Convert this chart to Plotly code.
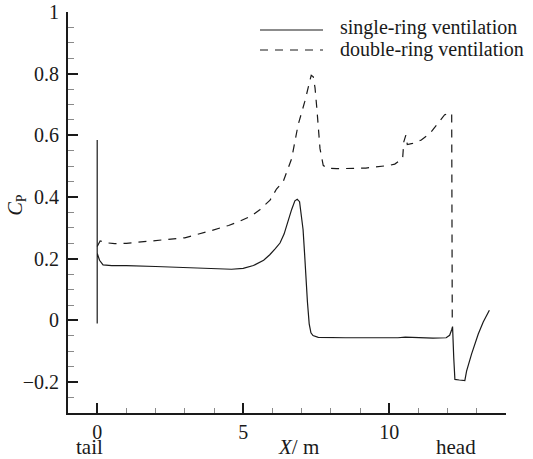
import plotly.graph_objects as go

# ---- data ----
single_x = [0, 0, 0, 0.08, 0.2, 0.5, 1.0, 2.0, 3.0, 4.0, 4.6, 5.0, 5.35, 5.7, 5.91,
            6.1, 6.26, 6.4, 6.54, 6.66, 6.77, 6.85, 6.93, 7.0, 7.05, 7.1, 7.15, 7.2,
            7.26, 7.32, 7.39, 7.57, 8.5, 9.5, 10.3, 10.55, 11.0, 11.5, 11.95, 12.07,
            12.14, 12.17, 12.21, 12.25, 12.4, 12.59, 12.65, 12.82, 13.05, 13.22, 13.43]
single_y = [0.585, -0.01, 0.218, 0.195, 0.18, 0.178, 0.178, 0.175, 0.171, 0.167, 0.166,
            0.169, 0.178, 0.195, 0.213, 0.233, 0.251, 0.28, 0.328, 0.36, 0.388, 0.393,
            0.385, 0.34, 0.295, 0.22, 0.131, 0.06, -0.011, -0.04, -0.049, -0.055,
            -0.056, -0.057, -0.056, -0.054, -0.056, -0.057, -0.056, -0.048, -0.03,
            -0.02, -0.12, -0.191, -0.193, -0.195, -0.164, -0.109, -0.044, -0.005, 0.033]

double_x = [0, 0.1, 0.3, 0.6, 1.0, 2.0, 3.0, 3.86, 4.5, 4.89, 5.3, 5.58, 5.92, 6.14,
            6.37, 6.66, 6.88, 7.11, 7.25, 7.33, 7.4, 7.46, 7.52, 7.57, 7.63, 7.74,
            7.85, 8.2, 9.2, 10.02, 10.19, 10.46, 10.5, 10.57, 10.62, 10.8, 11.1, 11.4,
            11.62, 11.9, 12.14, 12.16]
double_y = [0.24, 0.258, 0.252, 0.249, 0.25, 0.258, 0.268, 0.29, 0.308, 0.322, 0.34,
            0.36, 0.39, 0.426, 0.45, 0.525, 0.634, 0.71, 0.77, 0.795, 0.79, 0.754,
            0.69, 0.634, 0.557, 0.503, 0.494, 0.492, 0.494, 0.503, 0.507, 0.525,
            0.579, 0.601, 0.57, 0.574, 0.585, 0.607, 0.634, 0.667, 0.672, -0.01]

series_names = ["single-ring ventilation", "double-ring ventilation"]

y_ticks = [-0.2, 0, 0.2, 0.4, 0.6, 0.8, 1.0]
y_ticktext = ["\u22120.2", "0", "0.2", "0.4", "0.6", "0.8", "1"]
x_ticks = [0, 5, 10]
x_ticktext = ["0", "5", "10"]
x_minor = list(range(-1, 15))
y_minor = [round(-0.3 + 0.05 * k, 2) for k in range(27)]

FONT = "Liberation Serif, Times New Roman, serif"
INK = "#1a1a1a"
DASH = "8px,7px"

fig = go.Figure()
fig.add_trace(go.Scatter(x=single_x, y=single_y, mode="lines", name=series_names[0],
                         showlegend=False, line=dict(color=INK, width=1.2)))
fig.add_trace(go.Scatter(x=double_x, y=double_y, mode="lines", name=series_names[1],
                         showlegend=False, line=dict(color=INK, width=1.2, dash=DASH)))

fig.update_layout(
    template="none",
    width=533, height=459,
    margin=dict(l=68, r=27, t=12, b=46, pad=0),
    paper_bgcolor="white", plot_bgcolor="white",
    font=dict(family=FONT, color=INK, size=20),
    showlegend=False,
    xaxis=dict(range=[-1, 14], showgrid=False, zeroline=False, automargin=False,
               showline=True, linecolor=INK, linewidth=2,
               ticks="inside", ticklen=10, tickwidth=2, tickcolor=INK,
               tickmode="array", tickvals=x_ticks, ticktext=x_ticktext,
               tickfont=dict(family=FONT, size=20, color=INK),
               minor=dict(tickmode="array", tickvals=x_minor, ticks="inside",
                          ticklen=5, tickwidth=1, tickcolor="#8a8a8a")),
    yaxis=dict(range=[-0.3, 1.0], showgrid=False, zeroline=False, automargin=False,
               showline=True, linecolor=INK, linewidth=2,
               ticks="inside", ticklen=10, tickwidth=2, tickcolor=INK,
               tickmode="array", tickvals=y_ticks, ticktext=y_ticktext,
               tickfont=dict(family=FONT, size=20, color=INK),
               ticklabelstandoff=3,
               minor=dict(tickmode="array", tickvals=y_minor, ticks="inside",
                          ticklen=6, tickwidth=1, tickcolor="#8a8a8a")),
)

# legend drawn as line samples + labels (paper coordinates)
legend_rows = [(0.9551, 0.9601, "solid"), (0.9052, 0.9077, DASH)]
for (ly, ty, dash), name in zip(legend_rows, series_names):
    fig.add_shape(type="line", xref="paper", yref="paper", x0=0.4384, x1=0.5822,
                  y0=ly, y1=ly, line=dict(color=INK, width=1.2, dash=dash))
    fig.add_annotation(text=name, x=0.6164, y=ty, xref="paper", yref="paper",
                       xanchor="left", yanchor="middle", showarrow=False,
                       font=dict(family=FONT, size=20, color=INK))

fig.add_annotation(text="tail", x=-0.25, y=-0.0848, xref="x", yref="paper",
                   showarrow=False, yanchor="middle",
                   font=dict(family=FONT, size=21, color=INK))
fig.add_annotation(text="<i>X</i>/ m", x=6.9, y=-0.0848, xref="x", yref="paper",
                   showarrow=False, yanchor="middle",
                   font=dict(family=FONT, size=21, color=INK))
fig.add_annotation(text="head", x=12.3, y=-0.0848, xref="x", yref="paper",
                   showarrow=False, yanchor="middle",
                   font=dict(family=FONT, size=21, color=INK))
fig.add_annotation(text="<i>C</i><sub>P</sub>", x=-0.1527, y=0.5187, xref="paper",
                   yref="paper", showarrow=False, textangle=-90,
                   font=dict(family=FONT, size=20, color=INK))

fig.write_html("out.html", config={"displayModeBar": False},
               post_script="document.body.style.margin='0';document.body.style.overflow='hidden';")
